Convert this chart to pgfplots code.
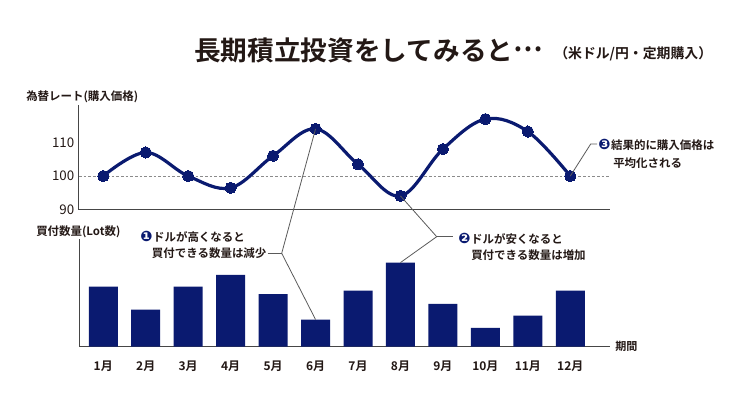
\documentclass[border=0pt]{standalone}
\usepackage{fontspec}
\setmainfont{Noto Sans CJK JP}[BoldFont={Noto Sans CJK JP Bold}]
\newfontfamily\dingfont{DejaVu Sans}
\usepackage{pgfplots}
\pgfplotsset{compat=1.18}
\definecolor{navy}{RGB}{10,26,112}
\definecolor{ink}{RGB}{35,24,21}
\definecolor{axisgray}{RGB}{70,70,70}
\definecolor{leader}{RGB}{90,90,90}
\newcommand{\fs}[1]{\fontsize{#1}{#1}\selectfont}
\newcommand{\ding}[1]{{\dingfont\fs{10.8}\color{navy}#1}\hspace{0.5pt}}
\begin{document}
\begin{tikzpicture}
\useasboundingbox (0pt,0pt) rectangle (555pt,298.5pt);
% ---------- top: exchange rate ----------
\begin{axis}[
  at={(59.25pt,141.2pt)}, anchor=south west,
  scale only axis, width=398.25pt, height=78.5pt,
  xmin=0.428, xmax=12.935, ymin=90, ymax=121.07,
  axis lines=left, axis line style={-, axisgray, line width=0.75pt},
  xtick=\empty, ytick={90,100,110},
  major tick length=0pt,
  yticklabel style={font=\fs{10}, text=ink},
  /pgf/number format/assume math mode=true,
  clip=false,
]
\addplot[leader!70, line width=0.6pt, dash pattern=on 2pt off 1.5pt] coordinates {(0.428,100) (12.935,100)};
\addplot[navy, line width=2.4pt, smooth, tension=0.6, mark=*, mark size=4.2pt,
  mark options={fill=navy, draw=navy, line width=0pt}] coordinates {
  (1,100) (2,107.0) (3,100) (4,96.5) (5,106.0) (6,114.0)
  (7,103.5) (8,94.1) (9,108.0) (10,116.9) (11,113.2) (12,100)};
\coordinate (p6) at (axis cs:6,114.0);
\coordinate (p8) at (axis cs:8,94.1);
\coordinate (p12) at (axis cs:12,100);
\end{axis}
% ---------- bottom: quantity ----------
\begin{axis}[
  at={(59.25pt,38.6pt)}, anchor=south west,
  scale only axis, width=398.25pt, height=80.6pt,
  xmin=0.428, xmax=12.935, ymin=0, ymax=107.5,
  axis lines=left, axis line style={-, axisgray, line width=0.75pt},
  ytick=\empty, xtick={1,...,12},
  xticklabels={1月,2月,3月,4月,5月,6月,7月,8月,9月,10月,11月,12月},
  xticklabel style={font=\bfseries\fs{9}, text=ink, yshift=-7pt},
  major tick length=0pt,
  ybar, bar width=21.75pt,
  clip=false,
]
\addplot[fill=navy, draw=none] coordinates {
  (1,59.8) (2,37) (3,59.8) (4,71.7) (5,52.3) (6,27)
  (7,56) (8,84) (9,42.7) (10,18.7) (11,31) (12,56)};
\coordinate (b6) at (axis cs:6,27);
\coordinate (b8) at (axis cs:8,84);
\end{axis}
% ---------- texts & leaders ----------
\begin{scope}[x=0.75pt,y=-0.75pt,shift={(0pt,298.5pt)}]
\draw[leader, line width=0.6pt] (p6) -- (281.7,253.3) -- (b6);
\draw[leader, line width=0.6pt] (267.5,253.3) -- (281.7,253.3);
\draw[leader, line width=0.6pt] (p8) -- (436.7,236.7) -- (b8);
\draw[leader, line width=0.6pt] (436.7,236.7) -- (453,236.7);
\draw[leader, line width=0.6pt] (p12) -- (590.7,144) -- (597,144);
\tikzset{lab/.style={anchor=west, inner sep=0pt, text=ink, font=\bfseries\fs{8.6}}}
\node[lab, font=\bfseries\fs{20}] at (194,50) {長期積立投資をしてみると\raisebox{0.33em}{…}};
\node[lab, font=\bfseries\fs{10.4}] at (554,54) {（米ドル/円・定期購入）};
\node[lab] at (26,96.7) {為替レート(購入価格)};
\node[lab] at (36,231.7) {買付数量(Lot数)};
\node[lab] at (140,236.7) {\ding{❶}ドルが高くなると};
\node[lab] at (151.7,253.3) {買付できる数量は減少};
\node[lab] at (458,238.7) {\ding{❷}ドルが安くなると};
\node[lab] at (471,255.6) {買付できる数量は増加};
\node[lab] at (598,145) {\ding{❸}結果的に購入価格は};
\node[lab] at (613,162.7) {平均化される};
\node[lab, font=\bfseries\fs{8.3}] at (615,346.5) {期間};
\end{scope}
\end{tikzpicture}
\end{document}
